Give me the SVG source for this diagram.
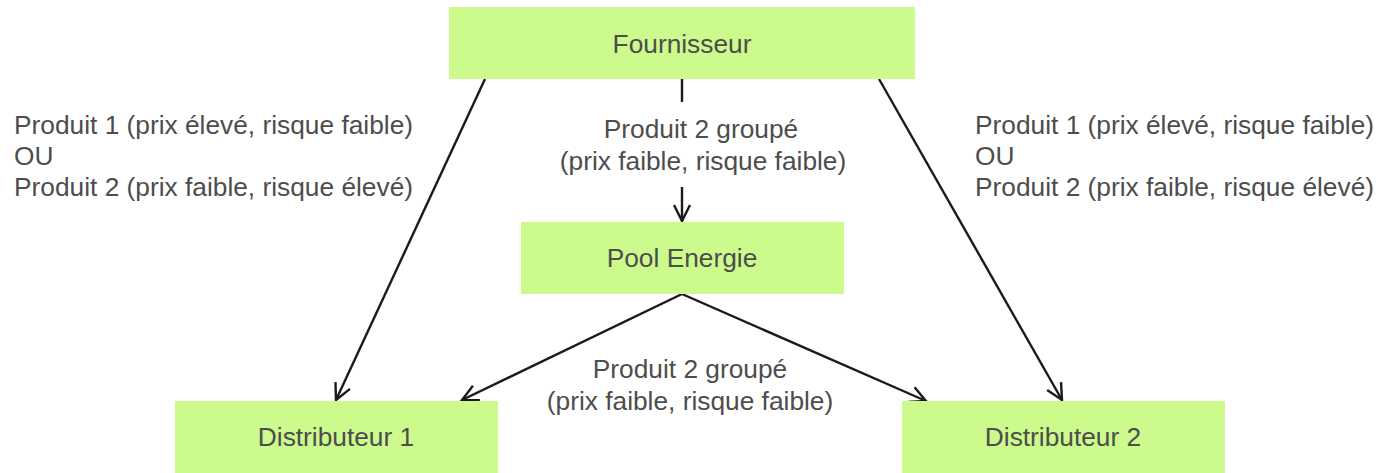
<svg xmlns="http://www.w3.org/2000/svg" width="1381" height="473" viewBox="0 0 1381 473">
<style>
.box{fill:#CCFA8C;stroke:none}
.t{font-family:"Liberation Sans",Arial,sans-serif;font-size:26.3px;fill:#4D4D4D}
.c{text-anchor:middle}
.ln{stroke:#1A1A1A;stroke-width:2.4;fill:none}
</style>
<defs>
<marker id="arr" viewBox="0 0 20 20" refX="18" refY="10" markerWidth="20" markerHeight="20" markerUnits="userSpaceOnUse" orient="auto" overflow="visible">
<path d="M2,2 L18,10 L2,18" fill="none" stroke="#1A1A1A" stroke-width="2.4"/>
</marker>
</defs>
<rect width="1381" height="473" fill="#FFFFFF"/>
<g id="connectors">
<line class="ln" x1="485" y1="79" x2="336" y2="400" marker-end="url(#arr)"/>
<line class="ln" x1="879" y1="79" x2="1062" y2="400" marker-end="url(#arr)"/>
<line class="ln" x1="682" y1="79" x2="682" y2="102"/>
<line class="ln" x1="682" y1="187" x2="682" y2="221" marker-end="url(#arr)"/>
<line class="ln" x1="682" y1="294" x2="462" y2="400" marker-end="url(#arr)"/>
<line class="ln" x1="682" y1="294" x2="926" y2="401" marker-end="url(#arr)"/>
<text class="t" x="14" y="134">Produit 1 (prix élevé, risque faible)</text>
<text class="t" x="14" y="165">OU</text>
<text class="t" x="14" y="196">Produit 2 (prix faible, risque élevé)</text>
<text class="t" x="975" y="134">Produit 1 (prix élevé, risque faible)</text>
<text class="t" x="975" y="165">OU</text>
<text class="t" x="975" y="196">Produit 2 (prix faible, risque élevé)</text>
<text class="t c" x="701" y="138">Produit 2 groupé</text>
<text class="t c" x="703" y="170">(prix faible, risque faible)</text>
<text class="t c" x="690" y="378">Produit 2 groupé</text>
<text class="t c" x="690" y="410">(prix faible, risque faible)</text>
</g>
<g id="fournisseur">
<rect class="box" x="449" y="7" width="466" height="72"/>
<text class="t c" x="682" y="53">Fournisseur</text>
</g>
<g id="pool">
<rect class="box" x="521" y="222" width="323" height="72"/>
<text class="t c" x="682" y="267">Pool Energie</text>
</g>
<g id="distributeur1">
<rect class="box" x="175" y="401" width="323" height="72"/>
<text class="t c" x="336" y="446">Distributeur 1</text>
</g>
<g id="distributeur2">
<rect class="box" x="902" y="401" width="323" height="72"/>
<text class="t c" x="1063" y="446">Distributeur 2</text>
</g>
</svg>
